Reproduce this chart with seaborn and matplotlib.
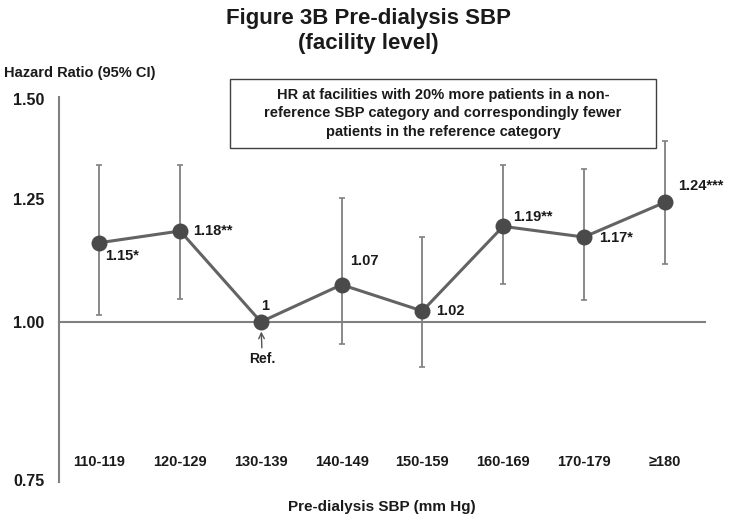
import matplotlib
matplotlib.use("Agg")
import matplotlib.pyplot as plt
import numpy as np
import pandas as pd
import seaborn as sns
from matplotlib.patches import Rectangle
from matplotlib.ticker import FixedLocator, FuncFormatter, NullLocator

# values
categories = ["110-119", "120-129", "130-139", "140-149", "150-159", "160-169", "170-179", "≥180"]
hazard_ratio = [1.155, 1.18, 1.00, 1.07, 1.02, 1.19, 1.167, 1.243]
ci_lower = [1.012, 1.043, np.nan, 0.961, 0.921, 1.071, 1.040, 1.111]
ci_upper = [1.331, 1.331, np.nan, 1.253, 1.167, 1.331, 1.321, 1.391]
point_labels = ["1.15*", "1.18**", "1", "1.07", "1.02", "1.19**", "1.17*", "1.24***"]
y_ticks = [0.75, 1.00, 1.25, 1.50]

sns.set_style("white")
plt.rcParams["font.family"] = ["Liberation Sans", "DejaVu Sans"]
plt.rcParams["font.weight"] = "bold"
plt.rcParams["axes.labelweight"] = "bold"

df = pd.DataFrame({
    "pos": np.arange(len(categories)),
    "hr": hazard_ratio,
    "lo": ci_lower,
    "hi": ci_upper,
})

GRAY = "#808080"
fig = plt.figure(figsize=(7.35, 5.22), dpi=100)
ax = fig.add_axes([0.0803, 0.0766, 0.8789, 0.7382])

ax.errorbar(
    df["pos"], df["hr"], yerr=[df["hr"] - df["lo"], df["hi"] - df["hr"]],
    fmt="none", ecolor=GRAY, elinewidth=1.3, capsize=2.5, capthick=1.2, zorder=1,
)
sns.lineplot(
    data=df, x="pos", y="hr", ax=ax, color="#636363", linewidth=2.2,
    marker="o", markersize=11.5, markeredgewidth=0, markerfacecolor="#4a4a4a", zorder=3,
)

offsets = [(4.3, -9.4, "left"), (9.4, 0, "left"), (3, 11.5, "center"), (5.8, 17.3, "left"),
           (10, 0, "left"), (7.2, 7, "left"), (10.8, -0.7, "left"), (10, 11.5, "left")]
for (x, y, text), (dx, dy, ha) in zip(zip(df["pos"], df["hr"], point_labels), offsets):
    ax.annotate(text, (x, y), xytext=(dx, dy), textcoords="offset points",
                ha=ha, va="center", fontsize=10.5, color="#1a1a1a")

ax.annotate("Ref.", xy=(2, 1.0), xytext=(1, -26.6), textcoords="offset points",
            ha="center", va="center", fontsize=10, color="#1a1a1a",
            arrowprops={"arrowstyle": "->", "color": "#555555", "lw": 1.0, "shrinkA": 0.5, "shrinkB": 7})

ax.set_yscale("log")
ax.set_ylim(0.747, 1.507)
ax.set_xlim(-0.5, len(categories) - 0.5)
ax.yaxis.set_major_locator(FixedLocator(y_ticks))
ax.yaxis.set_minor_locator(NullLocator())
ax.yaxis.set_major_formatter(FuncFormatter(lambda v, _: f"{v:.2f}"))
ax.set_ylabel("")

ax.set_xticks(df["pos"], categories)
ax.set_xticks(np.arange(-0.5, len(categories), 1.0), minor=True)
ax.tick_params(axis="x", which="major", length=0, pad=96, labelsize=10.5, labelcolor="#1a1a1a")
ax.tick_params(axis="x", which="minor", length=4, width=1, color=GRAY, direction="out")
ax.tick_params(axis="y", length=5, width=1, color=GRAY, direction="inout", pad=8,
               labelsize=11.5, labelcolor="#1a1a1a")

for side in ("top", "right"):
    ax.spines[side].set_visible(False)
ax.spines["bottom"].set_position(("data", 1.0))
for side in ("left", "bottom"):
    ax.spines[side].set_color(GRAY)
    ax.spines[side].set_linewidth(1.5)

ax.set_xlabel("Pre-dialysis SBP (mm Hg)", fontsize=11, color="#1a1a1a")
ax.xaxis.set_label_coords(0.5, -0.047)

fig.text(0.5007, 1 - 31 / 522, "Figure 3B Pre-dialysis SBP\n(facility level)", ha="center", va="center",
         fontsize=16, linespacing=1.25, color="#1a1a1a")
fig.text(0.005, 0.860, "Hazard Ratio (95% CI)", ha="left", va="center", fontsize=10.5,
         color="#1a1a1a")

fig.add_artist(Rectangle((230 / 735, 1 - 148 / 522), 426 / 735, 69 / 522, transform=fig.transFigure,
                         facecolor="white", edgecolor="#404040", linewidth=1.0))
fig.text(443 / 735, 1 - 113.5 / 522,
         "HR at facilities with 20% more patients in a non-\n"
         "reference SBP category and correspondingly fewer\n"
         "patients in the reference category",
         ha="center", va="center", fontsize=10.5, linespacing=1.4, color="#1a1a1a")

fig.savefig("out.png", dpi=100)
